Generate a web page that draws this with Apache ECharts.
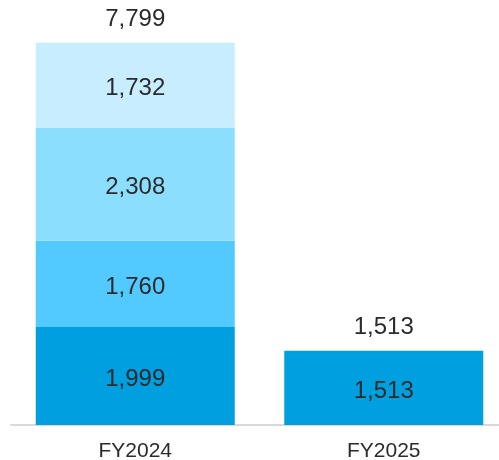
<!DOCTYPE html>
<html>
<head>
<meta charset="utf-8">
<style>
  html, body { margin: 0; padding: 0; background: #fff; }
  #chart { width: 499px; height: 460px; }
</style>
<script src="https://cdn.jsdelivr.net/npm/echarts@6/dist/echarts.min.js"></script>
</head>
<body>
<div id="chart"></div>
<script>
// Fiscal years on the category axis
const categories = ['FY2024', 'FY2025'];

// Stacked segments, bottom to top
const segment1 = [1999, 1513];
const segment2 = [1760, null];
const segment3 = [2308, null];
const segment4 = [1732, null];

// Column totals shown above each stack
const totals = [7799, 1513];

const segmentColors = ['#009fdf', '#52caff', '#8cdeff', '#c8edff'];
const textColor = '#2b2b2b';
const fontFamily = 'Liberation Sans, Arial, sans-serif';

const fmt = v => Number(v).toLocaleString('en-US');

function segmentSeries(data, color) {
  return {
    type: 'bar',
    stack: 'total',
    data: data,
    barWidth: 199,
    itemStyle: { color: color },
    label: {
      show: true,
      position: 'inside',
      offset: [0, 3],
      color: textColor,
      fontSize: 24,
      fontFamily: fontFamily,
      formatter: p => fmt(p.value)
    },
    emphasis: { disabled: true }
  };
}

const chart = echarts.init(document.getElementById('chart'), null, { renderer: 'canvas' });

chart.setOption({
  animation: false,
  // the plot runs a little past the right edge of the canvas
  grid: {
    left: 11, top: 33, bottom: 35, width: 497,
    containLabel: false,
    outerBoundsMode: 'none'
  },
  xAxis: {
    type: 'category',
    data: categories,
    axisLine: { lineStyle: { color: '#d9d9d9', width: 2 } },
    axisTick: { show: false },
    axisLabel: { color: textColor, fontSize: 21, fontFamily: fontFamily, margin: 16 }
  },
  yAxis: {
    type: 'value',
    min: 0,
    max: 8000,
    show: false,
    splitLine: { show: false }
  },
  series: [
    segmentSeries(segment1, segmentColors[0]),
    segmentSeries(segment2, segmentColors[1]),
    segmentSeries(segment3, segmentColors[2]),
    segmentSeries(segment4, segmentColors[3]),
    {
      // Invisible bar carrying the total label above each stack
      type: 'bar',
      data: totals,
      barWidth: 199,
      barGap: '-100%',
      z: -1,
      itemStyle: { color: 'rgba(0,0,0,0)' },
      label: {
        show: true,
        position: 'top',
        distance: 11,
        color: textColor,
        fontSize: 24,
        fontFamily: fontFamily,
        formatter: p => fmt(p.value)
      },
      emphasis: { disabled: true }
    }
  ]
});
</script>
</body>
</html>
